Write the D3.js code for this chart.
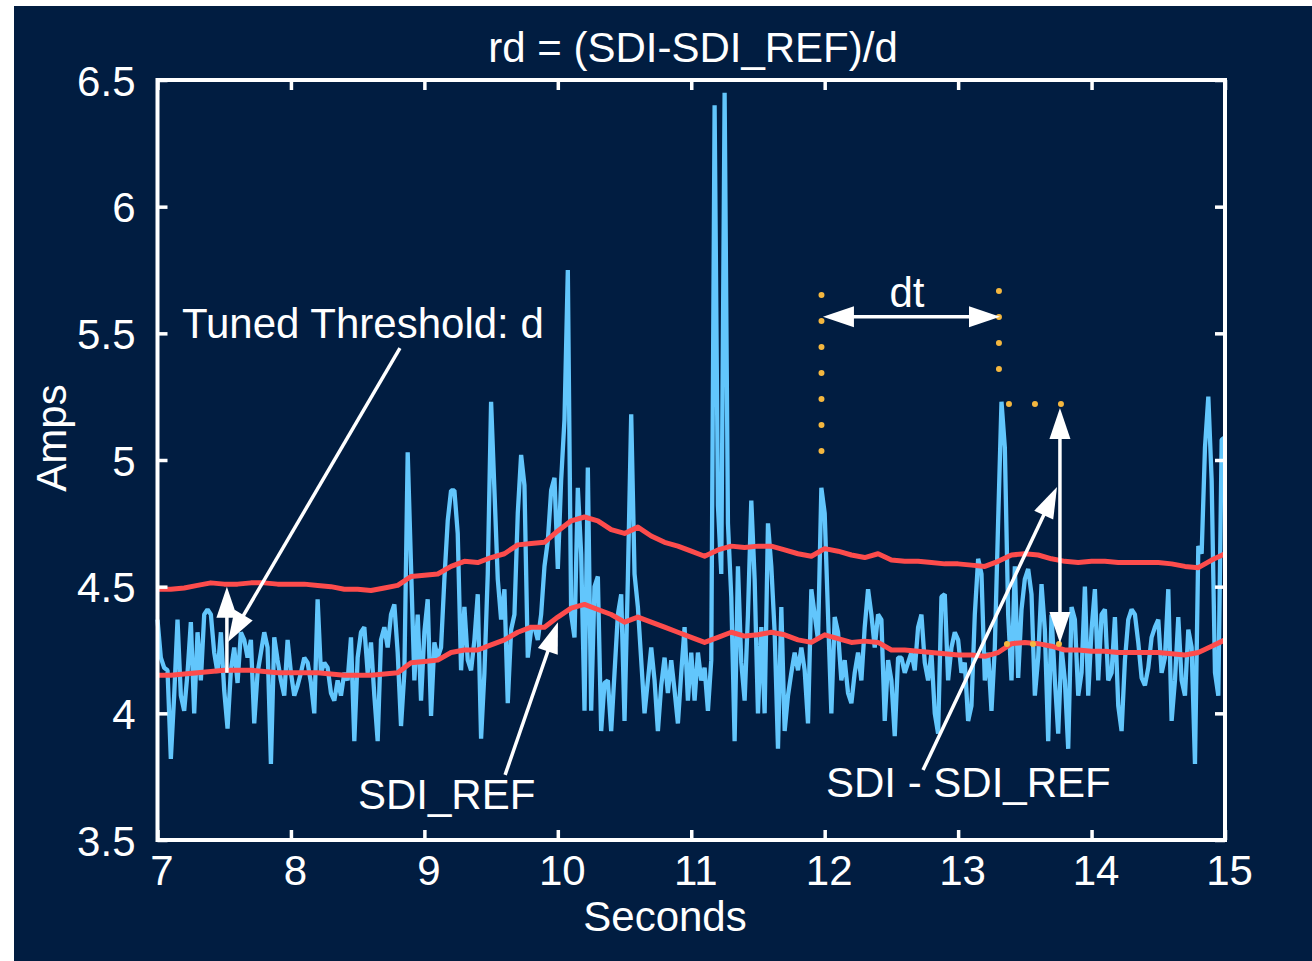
<!DOCTYPE html>
<html>
<head>
<meta charset="utf-8">
<script src="https://cdn.jsdelivr.net/npm/d3@7"></script>
<style>
  html, body { margin: 0; padding: 0; background: #ffffff; }
  svg { display: block; font-family: "Liberation Sans", Arial, Helvetica, sans-serif; }
</style>
</head>
<body>
<svg id="chart" width="1312" height="961"></svg>
<script>
// ---- data -------------------------------------------------------------
// SDI current signal, sampled every 0.025 s starting at t = 7 s
const sdiStart = 7;
const sdiStep = 0.025;
const sdi = [
  4.37, 4.22, 4.18, 4.17, 3.82, 4.07, 4.37, 4.07, 4.01, 4.16,
  4.36, 4.00, 4.32, 4.13, 4.39, 4.41, 4.39, 4.24, 4.16, 4.32,
  4.09, 3.94, 4.17, 4.26, 4.12, 4.32, 4.29, 4.22, 4.29, 3.96,
  4.16, 4.24, 4.32, 4.26, 3.80, 4.30, 4.21, 4.13, 4.07, 4.29,
  4.16, 4.07, 4.11, 4.16, 4.22, 4.20, 4.12, 4.00, 4.45, 4.16,
  4.20, 4.18, 4.08, 4.05, 4.13, 4.07, 4.16,
  4.13, 4.30, 3.89, 4.22, 4.32, 4.34, 4.16, 4.28, 4.07, 3.89,
  4.29, 4.34, 4.26, 4.39, 4.43, 4.24, 3.95, 4.16, 5.03, 4.58,
  4.13, 4.39, 4.05, 4.32, 4.45, 3.99, 4.28, 4.22, 4.26, 4.53,
  4.76, 4.88, 4.88, 4.71, 4.17, 4.42, 4.21, 4.17, 4.29, 4.47,
  3.90, 4.16, 4.55, 5.23, 4.88, 4.53, 4.37, 4.49, 4.04, 4.33,
  4.39, 4.79, 5.02, 4.90, 4.22,
  4.33, 4.34, 4.29, 4.39, 4.58, 4.68, 4.88, 4.93, 4.57, 4.92,
  5.16, 5.75, 4.39, 4.30, 4.89, 4.63, 4.01, 4.97, 4.01, 4.50,
  4.54, 3.93, 4.12, 4.13, 3.93, 4.16, 4.39, 4.47, 3.97, 4.53,
  5.18, 4.55, 4.42, 4.21, 4.00, 4.13, 4.26, 4.13, 3.93, 4.11,
  4.22, 4.08, 4.21, 4.09, 3.96, 4.16, 4.34, 4.05, 4.24, 4.05,
  4.24, 4.13, 4.18, 4.01, 4.21, 6.40,
  4.82, 4.55, 6.45, 4.75, 4.46, 3.89, 4.58, 4.20, 4.05, 4.39,
  4.84, 4.53, 4.00, 4.34, 4.00, 4.75, 4.58, 4.32, 3.86, 4.42,
  3.93, 4.07, 4.16, 4.24, 4.17, 4.26, 4.17, 3.96, 4.49, 4.39,
  4.29, 4.89, 4.79, 4.39, 4.00, 4.38, 4.32, 4.13, 4.21, 4.08,
  4.04, 4.16, 4.24, 4.13, 4.34, 4.49, 4.39, 4.26, 4.39, 4.37,
  3.97, 4.21, 4.13, 3.91, 4.22,
  4.22, 4.16, 4.20, 4.24, 4.17, 4.34, 4.39, 4.20, 4.13, 4.24,
  4.00, 3.92, 4.46, 4.47, 4.13, 4.26, 4.32, 4.29, 4.16, 4.20,
  3.97, 4.03, 4.39, 4.61, 4.55, 4.13, 4.24, 4.01, 4.26, 4.76,
  5.23, 5.05, 4.39, 4.13, 4.58, 4.14, 4.41, 4.53, 4.57, 4.47,
  4.07, 4.22, 4.51, 4.33, 3.89, 4.39, 4.13, 3.92, 4.26, 4.13,
  3.86, 4.42, 4.37, 4.07, 4.16, 4.50,
  4.07, 4.33, 4.49, 4.13, 4.39, 4.41, 4.13, 4.16, 4.38, 4.03,
  3.93, 4.21, 4.37, 4.41, 4.39, 4.28, 4.14, 4.11, 4.18, 4.30,
  4.34, 4.37, 4.16, 4.22, 4.49, 3.97, 4.13, 4.38, 4.13, 4.07,
  4.33, 4.26, 3.80, 4.66, 4.63, 5.05, 5.25, 4.92, 4.16, 4.07,
  5.08, 5.09
];

// SDI_REF reference level and tuned threshold, every 0.1 s from t = 7 s
const refStart = 7;
const refStep = 0.1;
const sdiRef = [
  4.150, 4.150, 4.155, 4.160, 4.165, 4.170, 4.170, 4.170, 4.165, 4.160,
  4.160, 4.160, 4.160, 4.155, 4.150, 4.150, 4.150, 4.155, 4.160, 4.200,
  4.205, 4.210, 4.240, 4.250, 4.250, 4.270, 4.290, 4.320, 4.340, 4.340,
  4.380, 4.415, 4.430, 4.410, 4.390, 4.360, 4.380, 4.360, 4.340, 4.320,
  4.300, 4.280, 4.300, 4.320, 4.305, 4.310, 4.320, 4.310, 4.290, 4.280,
  4.310, 4.295, 4.280, 4.285, 4.280, 4.250, 4.250, 4.245, 4.240, 4.235,
  4.230, 4.230, 4.225, 4.240, 4.275, 4.280, 4.275, 4.265, 4.250, 4.250,
  4.245, 4.245, 4.240, 4.240, 4.240, 4.240, 4.235, 4.230, 4.240, 4.265,
  4.290
];
const threshold = [
  4.490, 4.490, 4.495, 4.505, 4.515, 4.510, 4.510, 4.515, 4.515, 4.510,
  4.510, 4.510, 4.505, 4.500, 4.490, 4.490, 4.485, 4.495, 4.505, 4.540,
  4.545, 4.550, 4.580, 4.600, 4.595, 4.615, 4.630, 4.665, 4.670, 4.675,
  4.720, 4.760, 4.775, 4.760, 4.725, 4.710, 4.735, 4.700, 4.675, 4.660,
  4.640, 4.620, 4.645, 4.660, 4.655, 4.660, 4.660, 4.645, 4.630, 4.620,
  4.650, 4.640, 4.625, 4.615, 4.630, 4.605, 4.600, 4.600, 4.595, 4.590,
  4.590, 4.585, 4.580, 4.600, 4.625, 4.630, 4.625, 4.610, 4.600, 4.595,
  4.600, 4.600, 4.595, 4.595, 4.595, 4.595, 4.590, 4.580, 4.575, 4.605,
  4.630
];

const xTicks = [7, 8, 9, 10, 11, 12, 13, 14, 15];
const yTicks = [3.5, 4, 4.5, 5, 5.5, 6, 6.5];

// ---- layout -----------------------------------------------------------
const W = 1312, H = 961;
const plot = { left: 157.5, right: 1225, top: 80, bottom: 840 };
const NAVY = "#011d41";
const BLUE = "#62c6fc";
const RED = "#fd4c4c";
const ORANGE = "#f4b73f";
const FONT = 42;

const svg = d3.select("#chart");

svg.append("rect").attr("width", W).attr("height", H).attr("fill", "#ffffff");
svg.append("rect").attr("x", 14).attr("y", 6).attr("width", W - 14).attr("height", H - 6).attr("fill", NAVY);

const x = d3.scaleLinear().domain([7, 15]).range([plot.left, plot.right]);
const y = d3.scaleLinear().domain([3.5, 6.5]).range([plot.bottom, plot.top]);

// ---- series -----------------------------------------------------------
const sdiPts = sdi.map((v, i) => [sdiStart + i * sdiStep, v]);
const refPts = sdiRef.map((v, i) => [refStart + i * refStep, v]);
const thrPts = threshold.map((v, i) => [refStart + i * refStep, v]);

const line = d3.line().x(d => x(d[0])).y(d => y(d[1]));

svg.append("path")
  .attr("d", line(sdiPts))
  .attr("fill", "none")
  .attr("stroke", BLUE)
  .attr("stroke-width", 4.3)
  .attr("stroke-linejoin", "bevel");

[refPts, thrPts].forEach(pts => {
  svg.append("path")
    .attr("d", line(pts))
    .attr("fill", "none")
    .attr("stroke", RED)
    .attr("stroke-width", 5)
    .attr("stroke-linejoin", "round");
});

// ---- frame and axes ---------------------------------------------------
function styleAxis(g, keepLabels) {
  g.select(".domain").remove();
  g.selectAll(".tick line").attr("stroke", "#ffffff").attr("stroke-width", 3.5);
  if (!keepLabels) g.selectAll(".tick text").remove();
  g.selectAll(".tick text")
    .attr("fill", "#ffffff")
    .style("font-size", FONT + "px")
    .style("font-family", "\"Liberation Sans\", Arial, sans-serif");
}

const fmt = v => String(v);

svg.append("g").attr("transform", `translate(0,${plot.bottom})`)
  .call(d3.axisBottom(x).tickValues(xTicks).tickFormat(fmt).tickSize(-10).tickPadding(15))
  .call(g => styleAxis(g, true))
  .call(g => g.selectAll(".tick text").attr("dx", 4));

svg.append("g").attr("transform", `translate(0,${plot.top})`)
  .call(d3.axisTop(x).tickValues(xTicks).tickSize(-10))
  .call(g => styleAxis(g, false));

svg.append("g").attr("transform", `translate(${plot.left},0)`)
  .call(d3.axisLeft(y).tickValues(yTicks).tickFormat(fmt).tickSize(-10).tickPadding(22))
  .call(g => styleAxis(g, true))
  .call(g => g.selectAll(".tick text").attr("dy", "0.36em"));

svg.append("g").attr("transform", `translate(${plot.right},0)`)
  .call(d3.axisRight(y).tickValues(yTicks).tickSize(-10))
  .call(g => styleAxis(g, false));

svg.append("rect")
  .attr("x", plot.left).attr("y", plot.top)
  .attr("width", plot.right - plot.left).attr("height", plot.bottom - plot.top)
  .attr("fill", "none").attr("stroke", "#ffffff").attr("stroke-width", 4);

// ---- titles -----------------------------------------------------------
function label(txt, px, py, anchor) {
  return svg.append("text")
    .attr("x", px).attr("y", py)
    .attr("text-anchor", anchor || "start")
    .attr("fill", "#ffffff")
    .style("font-size", FONT + "px")
    .text(txt);
}

label("rd = (SDI-SDI_REF)/d", 693, 62, "middle");
label("Seconds", 665, 931, "middle");
svg.append("text")
  .attr("transform", "translate(66,438) rotate(-90)")
  .attr("text-anchor", "middle")
  .attr("fill", "#ffffff")
  .style("font-size", FONT + "px")
  .text("Amps");

// ---- annotations (data coordinates) -----------------------------------
const arrows = [
  { from: [8.817, 5.442], to: [7.528, 4.282], both: false },  // threshold pointer
  { from: [7.52, 4.16],  to: [7.52, 4.50],  both: false },    // offset d
  { from: [9.605, 3.757], to: [10.001, 4.36], both: false },  // SDI_REF pointer
  { from: [12.737, 3.776], to: [13.741, 4.893], both: false },// SDI - SDI_REF pointer
  { from: [13.763, 4.278], to: [13.763, 5.205], both: true }, // difference span
  { from: [11.987, 5.565], to: [13.314, 5.565], both: true }  // dt span
];

const dotted = [
  { from: [11.976, 5.651], to: [11.976, 4.933] },
  { from: [13.306, 5.667], to: [13.306, 5.261] },
  { from: [13.381, 5.221], to: [13.965, 5.221] },
  { from: [13.366, 4.274], to: [13.935, 4.274] }
];

const notes = [
  { text: "Tuned Threshold: d", at: [7.183, 5.481], anchor: "start" },
  { text: "SDI_REF", at: [8.502, 3.622], anchor: "start" },
  { text: "SDI - SDI_REF", at: [12.010, 3.669], anchor: "start" },
  { text: "dt", at: [12.617, 5.604], anchor: "middle" }
];

dotted.forEach(d => {
  svg.append("line")
    .attr("x1", x(d.from[0])).attr("y1", y(d.from[1]))
    .attr("x2", x(d.to[0])).attr("y2", y(d.to[1]))
    .attr("stroke", ORANGE)
    .attr("stroke-width", 6)
    .attr("stroke-linecap", "round")
    .attr("stroke-dasharray", "0.01 25.99");
});

const HEAD_L = 31, HEAD_W = 21;
function head(tip, ux, uy) {
  const bx = tip[0] - ux * HEAD_L, by = tip[1] - uy * HEAD_L;
  const nx = -uy * HEAD_W / 2, ny = ux * HEAD_W / 2;
  return [[tip[0], tip[1]], [bx + nx, by + ny], [bx - nx, by - ny]];
}

arrows.forEach(a => {
  const p1 = [x(a.from[0]), y(a.from[1])];
  const p2 = [x(a.to[0]), y(a.to[1])];
  const len = Math.hypot(p2[0] - p1[0], p2[1] - p1[1]);
  const ux = (p2[0] - p1[0]) / len, uy = (p2[1] - p1[1]) / len;
  const s = a.both ? [p1[0] + ux * (HEAD_L - 2), p1[1] + uy * (HEAD_L - 2)] : p1;
  const e = [p2[0] - ux * (HEAD_L - 2), p2[1] - uy * (HEAD_L - 2)];
  svg.append("line")
    .attr("x1", s[0]).attr("y1", s[1]).attr("x2", e[0]).attr("y2", e[1])
    .attr("stroke", "#ffffff").attr("stroke-width", 3.5);
  svg.append("polygon").attr("points", head(p2, ux, uy).join(" ")).attr("fill", "#ffffff");
  if (a.both) {
    svg.append("polygon").attr("points", head(p1, -ux, -uy).join(" ")).attr("fill", "#ffffff");
  }
});

notes.forEach(n => label(n.text, x(n.at[0]), y(n.at[1]), n.anchor));
</script>
</body>
</html>
